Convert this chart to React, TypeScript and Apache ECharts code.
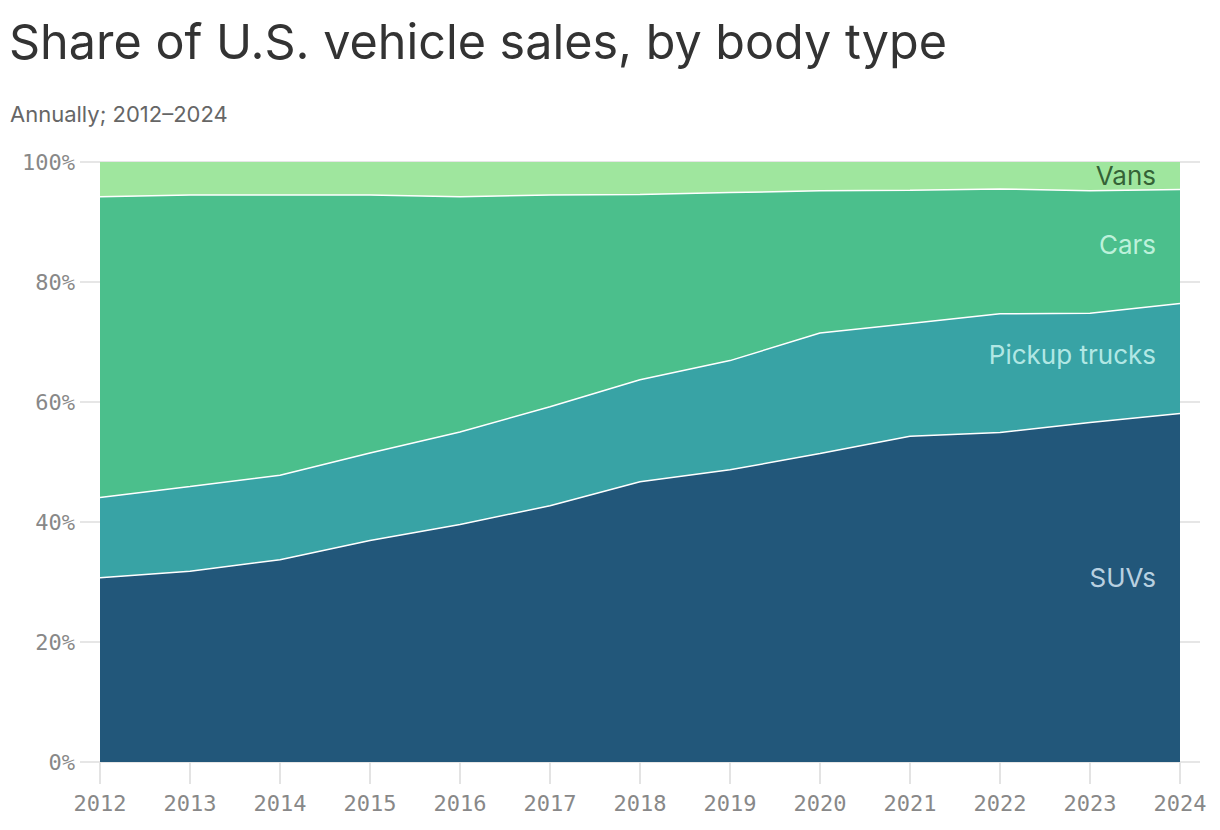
import React, { useEffect, useRef } from "react";
import * as echarts from "echarts";

const years = ["2012","2013","2014","2015","2016","2017","2018","2019","2020","2021","2022","2023","2024"];
const suvs = [30.7, 31.8, 33.7, 36.9, 39.6, 42.7, 46.7, 48.7, 51.4, 54.3, 54.9, 56.6, 58.1];
const pickups = [13.4, 14.1, 14.1, 14.6, 15.4, 16.5, 17.0, 18.2, 20.1, 18.8, 19.8, 18.2, 18.3];
const cars = [50.1, 48.6, 46.7, 43.0, 39.2, 35.3, 30.9, 28.0, 23.7, 22.2, 20.8, 20.4, 19.0];
const vans = [5.8, 5.5, 5.5, 5.5, 5.8, 5.5, 5.4, 5.1, 4.8, 4.7, 4.5, 4.8, 4.6];
const seriesNames = ["SUVs", "Pickup trucks", "Cars", "Vans"];
const seriesColors = ["#22577a", "#38a3a5", "#4bbf8c", "#9fe69e"];
const labelColors = ["#e2f3ff", "#d3fbf6", "#dcfff0", "#173f1a"];
const labelLevels = [30.7, 68.0, 86.2, 97.8];
const yTicks = [0, 20, 40, 60, 80, 100];

const SANS = "Inter, 'Noto Sans', sans-serif";
const MONO = "'DejaVu Sans Mono', monospace";

export default function App() {
  const ref = useRef<HTMLDivElement>(null);
  useEffect(() => {
    if (!ref.current) return;
    const chart = echarts.init(ref.current, null, { renderer: "svg" });
    const values = [suvs, pickups, cars, vans];
    const areaSeries = values.map((v, i) => ({
      name: seriesNames[i],
      type: "line",
      xAxisIndex: 1,
      yAxisIndex: 1,
      stack: "total",
      data: v,
      symbol: "none",
      smooth: false,
      lineStyle: { color: "#ffffff", width: i === 3 ? 0 : 1.5 },
      areaStyle: { color: seriesColors[i], opacity: 1 },
      z: 3 + (3 - i),
    }));
    chart.setOption({
      animation: false,
      backgroundColor: "#ffffff",
      title: [
        {
          text: "Share of U.S. vehicle sales, by body type",
          left: 4,
          top: 12,
          textStyle: { fontFamily: SANS, fontSize: 48.5, fontWeight: 400, color: "#333333" },
        },
        {
          text: "Annually; 2012–2024",
          left: 5,
          top: 98,
          textStyle: { fontFamily: SANS, fontSize: 22, fontWeight: 400, color: "#666666" },
        },
      ],
      grid: [
        { left: 80, right: 20, top: 162, bottom: 68 },
        { left: 100, right: 40, top: 162, bottom: 68 },
      ],
      xAxis: [
        { type: "value", gridIndex: 0, show: false, min: 0, max: 1 },
        {
          type: "category",
          gridIndex: 1,
          data: years,
          boundaryGap: false,
          axisLine: { show: false },
          axisTick: { show: true, alignWithLabel: true, length: 22, lineStyle: { color: "#e3e3e3", width: 2 } },
          axisLabel: { color: "#888888", fontFamily: MONO, fontSize: 22, margin: 30 },
        },
      ],
      yAxis: [
        {
          type: "value",
          gridIndex: 0,
          min: 0,
          max: 100,
          interval: 20,
          axisLine: { show: false },
          axisTick: { show: false },
          splitLine: { show: true, lineStyle: { color: "#e6e6e6", width: 2 } },
          axisLabel: {
            color: "#888888",
            fontFamily: MONO,
            fontSize: 22,
            margin: 5,
            formatter: (v: number) => (yTicks.includes(v) ? v + "%" : ""),
          },
        },
        { type: "value", gridIndex: 1, min: 0, max: 100, show: false },
      ],
      series: [
        ...areaSeries,
        {
          type: "scatter",
          xAxisIndex: 1,
          yAxisIndex: 1,
          symbolSize: 0,
          z: 10,
          data: seriesNames.map((n, i) => ({
            value: [years[years.length - 1], labelLevels[i]],
            name: n,
            label: {
              show: true,
              position: "left",
              distance: 24,
              formatter: n,
              color: labelColors[i],
              fontFamily: SANS,
              fontSize: 26,
            },
          })),
        },
      ],
    });
    return () => chart.dispose();
  }, []);
  return <div ref={ref} style={{ position: "fixed", left: 0, top: 0, width: 1220, height: 830 }} />;
}
